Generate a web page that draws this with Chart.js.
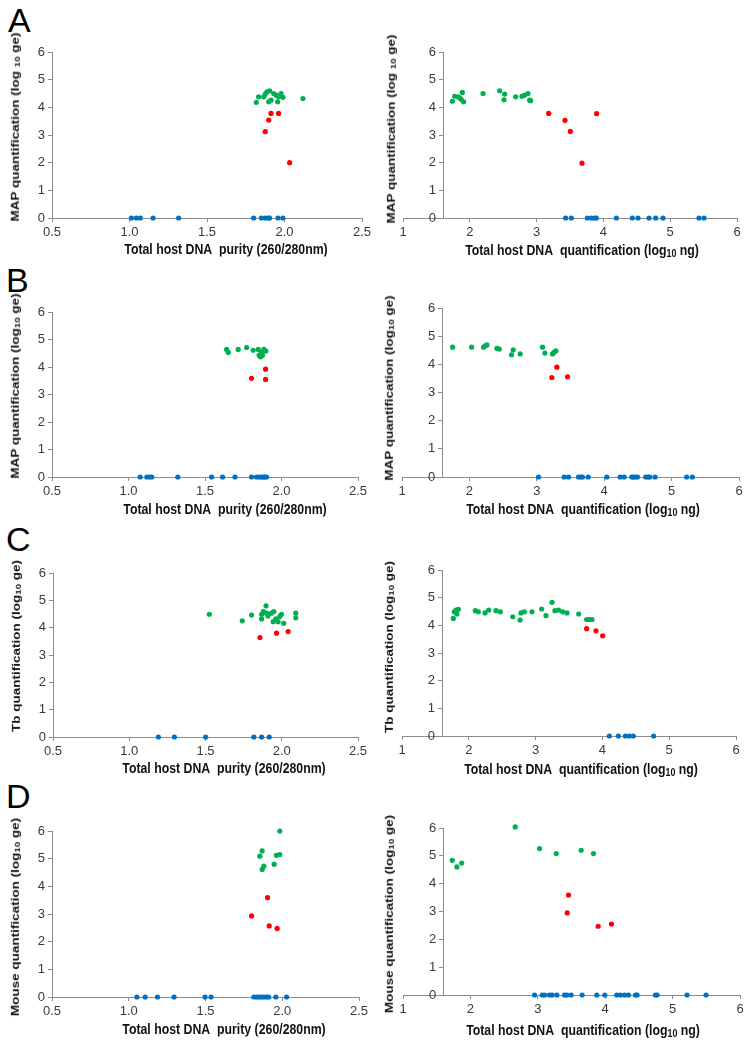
<!DOCTYPE html>
<html><head><meta charset="utf-8">
<script src="https://cdn.jsdelivr.net/npm/chart.js@4.4.1/dist/chart.umd.min.js"></script>
<style>
html,body{margin:0;padding:0;background:#fff;}
body{width:752px;height:1044px;position:relative;overflow:hidden;font-family:'Liberation Sans',Arial,sans-serif;}
canvas{position:absolute;}
.letter{position:absolute;font-size:34px;line-height:34px;color:#000;}
.xt{position:absolute;font-family:'Liberation Sans',Arial,sans-serif;font-weight:bold;font-size:15px;white-space:nowrap;transform:translate(-50%,-50%) scaleX(0.82);color:#111;}
.yt{position:absolute;font-family:'Liberation Sans',Arial,sans-serif;font-weight:bold;font-size:13.5px;white-space:nowrap;transform:translate(-50%,-50%) rotate(-90deg) scaleY(0.82);color:#111;}
sub{font-size:72%;vertical-align:-0.2em;line-height:0;}
</style>
</head><body>
<script>
// ---------- data ----------
const purityTicks = ['0.5','1.0','1.5','2.0','2.5'];
const quantTicks = ['1','2','3','4','5','6'];
const yTicks = ['0','1','2','3','4','5','6'];

// Panel A (MAP)
const A_pur_green = [[1.818,4.18],[1.833,4.38],[1.866,4.38],[1.876,4.48],[1.887,4.56],[1.904,4.60],[1.898,4.20],[1.913,4.26],[1.930,4.50],[1.947,4.44],[1.962,4.38],[1.956,4.20],[1.978,4.50],[1.990,4.36],[2.119,4.32]];
const A_pur_red = [[1.876,3.12],[1.898,3.54],[1.913,3.78],[1.962,3.78],[2.033,2.00]];
const A_pur_blue = [[1.012,0],[1.044,0],[1.070,0],[1.152,0],[1.317,0],[1.801,0],[1.851,0],[1.876,0],[1.895,0],[1.904,0],[1.958,0],[1.990,0]];
const A_qty_green = [[1.739,4.22],[1.773,4.40],[1.823,4.38],[1.850,4.34],[1.873,4.28],[1.888,4.54],[1.908,4.20],[2.198,4.50],[2.447,4.60],[2.522,4.48],[2.512,4.27],[2.687,4.38],[2.781,4.40],[2.821,4.44],[2.871,4.50],[2.896,4.26],[2.911,4.24]];
const A_qty_red = [[3.181,3.78],[3.425,3.53],[3.505,3.13],[3.680,1.98],[3.899,3.77]];
const A_qty_blue = [[3.435,0],[3.520,0],[3.760,0],[3.820,0],[3.870,0],[3.894,0],[4.194,0],[4.433,0],[4.518,0],[4.683,0],[4.783,0],[4.892,0],[5.431,0],[5.506,0]];

// Panel B (MAP)
const B_pur_green = [[1.641,4.64],[1.652,4.53],[1.717,4.64],[1.772,4.71],[1.815,4.61],[1.848,4.64],[1.854,4.43],[1.863,4.37],[1.876,4.43],[1.870,4.53],[1.885,4.64],[1.898,4.58]];
const B_pur_red = [[1.804,3.59],[1.896,3.92],[1.896,3.55]];
const B_pur_blue = [[1.076,0],[1.120,0],[1.137,0],[1.152,0],[1.322,0],[1.543,0],[1.615,0],[1.696,0],[1.804,0],[1.837,0],[1.854,0],[1.870,0],[1.880,0],[1.891,0],[1.902,0]];
const B_qty_green = [[1.751,4.61],[2.033,4.61],[2.210,4.61],[2.235,4.66],[2.260,4.69],[2.408,4.57],[2.443,4.54],[2.625,4.34],[2.650,4.51],[2.754,4.37],[3.085,4.61],[3.120,4.40],[3.233,4.37],[3.258,4.43],[3.283,4.48]];
const B_qty_red = [[3.223,3.53],[3.297,3.90],[3.456,3.56]];
const B_qty_blue = [[3.026,0],[3.406,0],[3.470,0],[3.619,0],[3.653,0],[3.678,0],[3.762,0],[4.039,0],[4.236,0],[4.296,0],[4.409,0],[4.434,0],[4.458,0],[4.493,0],[4.617,0],[4.651,0],[4.676,0],[4.755,0],[5.224,0],[5.308,0]];

// Panel C (Tb)
const C_pur_green = [[1.525,4.49],[1.741,4.25],[1.802,4.46],[1.868,4.32],[1.868,4.49],[1.879,4.59],[1.897,4.80],[1.900,4.53],[1.910,4.43],[1.932,4.53],[1.948,4.59],[1.944,4.22],[1.961,4.32],[1.976,4.22],[1.987,4.41],[1.998,4.49],[2.013,4.16],[2.092,4.53],[2.092,4.36]];
const C_pur_red = [[1.857,3.64],[1.966,3.80],[2.042,3.86]];
const C_pur_blue = [[1.191,0],[1.296,0],[1.501,0],[1.817,0],[1.868,0],[1.918,0]];
const C_qty_green = [[1.768,4.25],[1.783,4.49],[1.808,4.55],[1.823,4.41],[1.843,4.58],[2.098,4.53],[2.143,4.49],[2.243,4.45],[2.298,4.55],[2.407,4.53],[2.472,4.49],[2.657,4.31],[2.767,4.19],[2.781,4.45],[2.831,4.49],[2.946,4.49],[3.091,4.59],[3.156,4.35],[3.246,4.83],[3.290,4.53],[3.345,4.55],[3.405,4.49],[3.470,4.45],[3.645,4.41],[3.764,4.21],[3.804,4.21],[3.844,4.21]];
const C_qty_red = [[3.764,3.88],[3.904,3.80],[4.004,3.62]];
const C_qty_blue = [[4.104,0],[4.239,0],[4.343,0],[4.403,0],[4.463,0],[4.767,0]];

// Panel D (Mouse)
const D_pur_green = [[1.984,6.00],[1.869,4.61],[1.880,4.73],[1.854,5.09],[1.869,5.28],[1.947,4.80],[1.962,5.12],[1.984,5.15]];
const D_pur_red = [[1.800,2.93],[1.904,3.59],[1.915,2.57],[1.967,2.48]];
const D_pur_blue = [[1.053,0],[1.107,0],[1.187,0],[1.295,0],[1.497,0],[1.536,0],[1.815,0],[1.833,0],[1.850,0],[1.865,0],[1.880,0],[1.898,0],[1.911,0],[1.958,0],[2.028,0]];
const D_qty_green = [[1.731,4.84],[1.800,4.60],[1.870,4.74],[2.665,6.04],[3.026,5.26],[3.273,5.08],[3.643,5.20],[3.826,5.08]];
const D_qty_red = [[3.456,3.59],[3.436,2.95],[3.895,2.47],[4.093,2.55]];
const D_qty_blue = [[2.952,0],[3.065,0],[3.100,0],[3.174,0],[3.213,0],[3.283,0],[3.396,0],[3.431,0],[3.495,0],[3.658,0],[3.876,0],[3.994,0],[4.172,0],[4.226,0],[4.286,0],[4.345,0],[4.449,0],[4.473,0],[4.745,0],[4.770,0],[5.214,0],[5.496,0]];

// ---------- text ----------
const letters = [['A',8,3],['B',6,263],['C',6,522],['D',6,779]];
const xTitlePurity = 'Total host DNA&nbsp; purity (260/280nm)';
const xTitleQuant = 'Total host DNA&nbsp; quantification (log<sub>10</sub> ng)';

// ---------- styles ----------
const GREEN = '#00b050', RED = '#ff0000', BLUE = '#0070c0';
const AXIS = '#8c8c8c', TICKTXT = '#3a3a3a';
const tickFont = {family:"'Liberation Sans', Arial, sans-serif", size:13};

function addDiv(cls, html, x, y){
  const d = document.createElement('div');
  d.className = cls; d.innerHTML = html;
  d.style.left = x + 'px'; d.style.top = y + 'px';
  document.body.appendChild(d);
}

function makePanel(p){
  const padR = 14, padT = 15, xH = 30;
  const cl = p.right ? 376 : 0;
  const ct = p.plotT - padT;
  const cw = p.plotR + padR - cl;
  const ch = (p.plotB - p.plotT) + padT + xH;
  const c = document.createElement('canvas');
  c.width = cw; c.height = ch;
  c.style.left = cl + 'px'; c.style.top = ct + 'px';
  c.style.width = cw + 'px'; c.style.height = ch + 'px';
  document.body.appendChild(c);
  const ds = (data, col) => ({data: data.map(d => ({x:d[0], y:d[1]})), backgroundColor: col, borderColor: col,
    pointRadius: 2.6, pointHoverRadius: 2.6, pointBorderWidth: 0, clip: false});
  const gridOpt = {display:true, drawOnChartArea:false, drawTicks:true, tickLength:4, color:AXIS, lineWidth:1};
  const borderOpt = {display:true, color:AXIS, width:1};
  const xLabels = p.right ? quantTicks : purityTicks;
  const xMin = p.right ? 1 : 0.5, xMax = p.right ? 6 : 2.5, xStep = p.right ? 1 : 0.5;
  // a y axis placed at x = 1.6 draws its labels flush with the line, so keep a small gap after them
  const yGap = p.right ? '\u00a0\u00a0' : '';
  const yScale = {type:'linear', min:0, max:6,
    ticks:{stepSize:1, color:TICKTXT, font:tickFont, padding:3, callback:(v)=> yTicks[Math.round(v)] + yGap},
    grid:gridOpt, border:borderOpt};
  if (p.right) { yScale.position = {x: 1.6}; }
  else { yScale.position = 'left'; yScale.afterFit = (s) => { s.width = p.plotL - cl; }; }
  new Chart(c, {
    type:'scatter',
    data:{datasets:[ds(p.blue, BLUE), ds(p.red, RED), ds(p.green, GREEN)]},
    options:{
      responsive:false, animation:false, devicePixelRatio:1,
      layout:{padding:{left: p.right ? (p.plotL - cl) : 0, right:padR, top:padT, bottom:0}},
      plugins:{legend:{display:false}, tooltip:{enabled:false}},
      events:[],
      scales:{
        x:{type:'linear', position:'bottom', min:xMin, max:xMax,
          afterFit:(s)=>{ s.height = xH; },
          ticks:{stepSize:xStep, color:TICKTXT, font:tickFont, padding:3, maxRotation:0, autoSkip:false,
            callback:(v)=> xLabels[Math.round((v - xMin)/xStep)]},
          grid:gridOpt, border:borderOpt},
        y:yScale
      }
    }
  });
  addDiv('xt', p.right ? xTitleQuant : xTitlePurity, p.xtX, p.xtY);
  addDiv('yt', p.yTitle, p.ytX, p.ytY);
}

const panelSpecs = [
  {right:false, plotL:52, plotR:362, plotT:52, plotB:218, green:A_pur_green, red:A_pur_red, blue:A_pur_blue, xtX:226, xtY:248, ytX:15, ytY:127, yTitle:'MAP quantification (log <sub>10</sub> ge)'},
  {right:true, plotL:403, plotR:737, plotT:52, plotB:218, green:A_qty_green, red:A_qty_red, blue:A_qty_blue, xtX:582, xtY:249, ytX:391, ytY:129, yTitle:'MAP quantification (log <sub>10</sub> ge)'},
  {right:false, plotL:52, plotR:358, plotT:312, plotB:477, green:B_pur_green, red:B_pur_red, blue:B_pur_blue, xtX:225, xtY:508, ytX:15, ytY:386, yTitle:'MAP quantification (log<sub>10</sub> ge)'},
  {right:true, plotL:402, plotR:739, plotT:308, plotB:477, green:B_qty_green, red:B_qty_red, blue:B_qty_blue, xtX:583, xtY:508, ytX:389, ytY:388, yTitle:'MAP quantification (log<sub>10</sub> ge)'},
  {right:false, plotL:53, plotR:358, plotT:573, plotB:737, green:C_pur_green, red:C_pur_red, blue:C_pur_blue, xtX:224, xtY:767, ytX:16, ytY:646, yTitle:'Tb quantification (log<sub>10</sub> ge)'},
  {right:true, plotL:402, plotR:736, plotT:570, plotB:736, green:C_qty_green, red:C_qty_red, blue:C_qty_blue, xtX:581, xtY:768, ytX:389, ytY:647, yTitle:'Tb quantification (log<sub>10</sub> ge)'},
  {right:false, plotL:52, plotR:359, plotT:831, plotB:997, green:D_pur_green, red:D_pur_red, blue:D_pur_blue, xtX:224, xtY:1028, ytX:15, ytY:917, yTitle:'Mouse quantification (log<sub>10</sub> ge)'},
  {right:true, plotL:403, plotR:740, plotT:828, plotB:995, green:D_qty_green, red:D_qty_red, blue:D_qty_blue, xtX:583, xtY:1029, ytX:389, ytY:914, yTitle:'Mouse quantification (log<sub>10</sub> ge)'}
];

letters.forEach(l => addDiv('letter', l[0], l[1], l[2]));
panelSpecs.forEach(makePanel);
</script>
</body></html>
